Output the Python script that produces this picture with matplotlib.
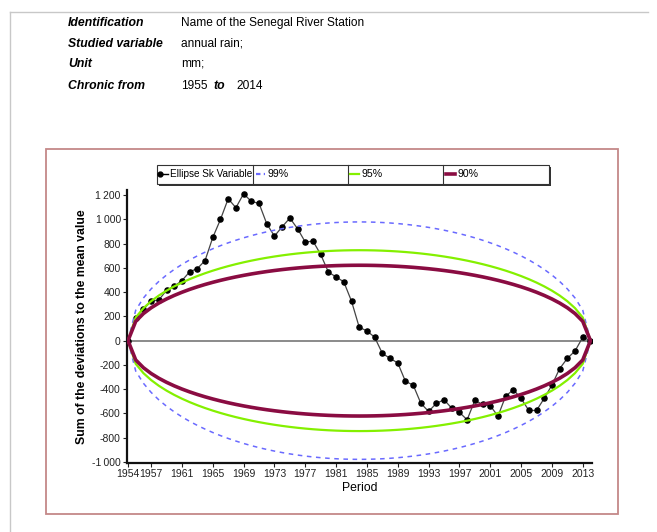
import numpy as np
import matplotlib
matplotlib.use("Agg")
import matplotlib.pyplot as plt
from matplotlib.patches import Rectangle
from matplotlib.lines import Line2D
from matplotlib.ticker import FuncFormatter

plt.rcParams['font.family'] = ['Liberation Sans Narrow', 'Liberation Sans', 'DejaVu Sans']

# Header block
header_labels = ["Identification", "Studied variable", "Unit", "Chronic from"]
header_values = ["Name of the Senegal River Station", "annual rain;", "mm;", None]
period_start, period_end = "1955", "2014"

# Cumulative sum of the deviations to the mean (mm), 1954 = start point
years = list(range(1954, 2015))
sk_values = [
    0, 185, 260, 325, 335, 415, 448, 495, 567, 594,
    660, 850, 999, 1169, 1095, 1210, 1147, 1131, 963, 861,
    938, 1010, 922, 812, 820, 710, 564, 525, 484, 325,
    110, 80, 28, -105, -146, -184, -336, -366, -517, -583,
    -517, -487, -556, -591, -652, -492, -525, -536, -622, -457,
    -404, -476, -575, -575, -476, -366, -231, -146, -85, 28,
    0,
]

# Bois control ellipses: confidence level and half-height at mid-period
ellipse_levels = ["99%", "95%", "90%"]
ellipse_half_height = [978, 745, 621]
ellipse_colors = ["#6a6aff", "#84f000", "#8a0c42"]
ellipse_styles = [(0, (3, 3)), "-", "-"]
ellipse_widths = [1.1, 1.6, 2.6]

xtick_years = [1954] + list(range(1957, 2014, 4))
ytick_values = list(range(-1000, 1201, 200))

W, H = 657, 532
fig = plt.figure(figsize=(W / 100, H / 100), dpi=100)


def fx(px):
    return px / W


def fy(py):
    return 1 - py / H


# outer light frame
fig.add_artist(Line2D([fx(10), fx(648)], [fy(12), fy(12)], transform=fig.transFigure,
                      color="#c8c8c8", lw=1))
fig.add_artist(Line2D([fx(10), fx(10)], [fy(12), fy(532)], transform=fig.transFigure,
                      color="#c8c8c8", lw=1))

# header text
hfont = ['Liberation Sans', 'DejaVu Sans']
rows_y = [23, 44, 64, 86]
for lab, val, ry in zip(header_labels, header_values, rows_y):
    fig.text(fx(68), fy(ry), lab, fontsize=8.8, fontweight="bold", fontstyle="italic",
             va="center", ha="left", family=hfont)
    if val is not None:
        fig.text(fx(181), fy(ry), val, fontsize=8.6, va="center", ha="left", family=hfont)
fig.text(fx(181), fy(86), period_start, fontsize=8.6, va="center", ha="left", family=hfont)
fig.text(fx(213), fy(86), "to", fontsize=8.8, fontweight="bold", fontstyle="italic",
         va="center", ha="left", family=hfont)
fig.text(fx(236), fy(86), period_end, fontsize=8.6, va="center", ha="left", family=hfont)

# chart frame
fig.add_artist(Rectangle((fx(46), fy(514)), fx(618) - fx(46), fy(149) - fy(514),
                         transform=fig.transFigure, fill=False, edgecolor="#c48888", lw=1.3))

# plot area
ax = fig.add_axes([fx(127), fy(463), fx(592) - fx(127), fy(190) - fy(463)])
ax.set_xlim(1953.87, 2014.2)
ax.set_ylim(-1008, 1241)

ax.axhline(0, color="#8a8a8a", lw=1.4, zorder=1)

ax.plot(years, sk_values, color="#444444", lw=0.9, marker="o", markersize=3.7,
        markerfacecolor="black", markeredgecolor="black", zorder=2)

yr = np.array(years, dtype=float)
n = yr[-1] - yr[0]
k = yr - yr[0]
shape = np.sqrt(k * (n - k)) / (n / 2)
for hh, c, ls, lw in zip(ellipse_half_height, ellipse_colors, ellipse_styles, ellipse_widths):
    ax.plot(yr, hh * shape, color=c, ls=ls, lw=lw, zorder=3)
    ax.plot(yr, -hh * shape, color=c, ls=ls, lw=lw, zorder=3)

for s in ["top", "right"]:
    ax.spines[s].set_visible(False)
for s in ["left", "bottom"]:
    ax.spines[s].set_linewidth(1.6)
    ax.spines[s].set_color("#111111")

ax.set_xticks(xtick_years)
ax.set_yticks(ytick_values)
ax.yaxis.set_major_formatter(FuncFormatter(
    lambda v, p: ("-" if v < 0 else "") + f"{abs(int(v)):,}".replace(",", "\u2009")
    if abs(v) >= 1000 else f"{int(v)}"))
ax.tick_params(axis="both", labelsize=7.5, length=3, width=0.8, colors="#222222", pad=1.5)

ax.set_xlabel("Period", fontsize=8.8, labelpad=2)
ax.set_ylabel("Sum of the deviations to the mean value", fontsize=8.8, fontweight="bold",
              family=['Liberation Sans', 'DejaVu Sans'])
ax.yaxis.set_label_coords((88 - 127) / (592 - 127), 0.5)

# legend band with column separators
lx0, lx1, ly0, ly1 = 157, 549, 165, 184
fig.add_artist(Rectangle((fx(lx0 + 2), fy(ly1 + 2)), fx(lx1) - fx(lx0), fy(ly0) - fy(ly1),
                         transform=fig.transFigure, facecolor="#333333", edgecolor="none"))
fig.add_artist(Rectangle((fx(lx0), fy(ly1)), fx(lx1) - fx(lx0), fy(ly0) - fy(ly1),
                         transform=fig.transFigure, facecolor="white", edgecolor="#333333", lw=0.8))
for sx in [253, 348, 443]:
    fig.add_artist(Line2D([fx(sx), fx(sx)], [fy(ly0), fy(ly1)], transform=fig.transFigure,
                          color="#333333", lw=0.8))
ymid = fy((ly0 + ly1) / 2)
fig.add_artist(Line2D([fx(160), fx(168)], [ymid, ymid], transform=fig.transFigure,
                      color="black", lw=1, marker="o", markersize=3.5, markevery=[0]))
fig.text(fx(170), ymid, "Ellipse Sk Variable", fontsize=7.2, va="center", ha="left")
leg_x = [256, 350, 446]
for lab, c, ls, lw, lxp in zip(ellipse_levels, ellipse_colors, ellipse_styles, ellipse_widths, leg_x):
    fig.add_artist(Line2D([fx(lxp), fx(lxp + 9)], [ymid, ymid], transform=fig.transFigure,
                          color=c, ls=ls if ls == "-" else (0, (2, 1.5)), lw=max(lw, 1.6)))
    fig.text(fx(lxp + 12), ymid, lab, fontsize=7.6, va="center", ha="left")

fig.savefig("out.png", dpi=100, facecolor="white")
